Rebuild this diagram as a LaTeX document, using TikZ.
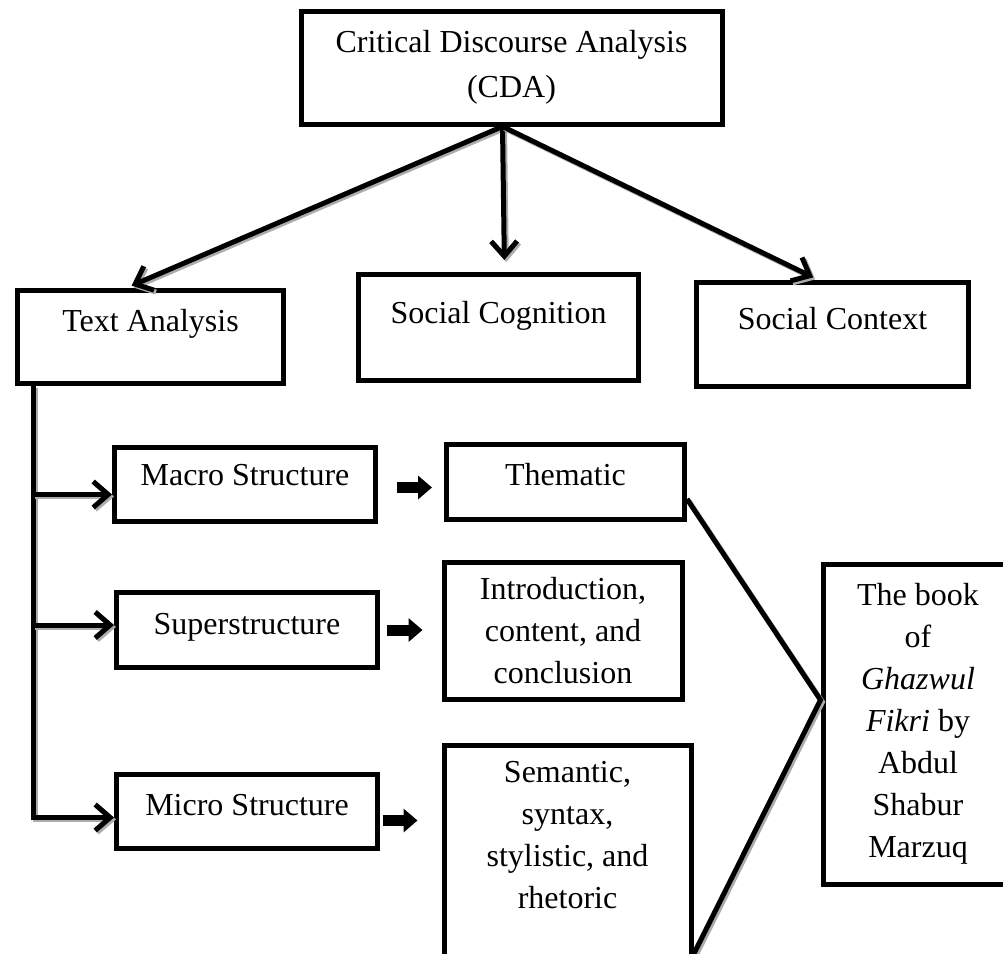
\documentclass[tikz,border=0pt]{standalone}
\usepackage{fontspec}
\setmainfont{Liberation Serif}
\usetikzlibrary{arrows.meta,calc}
\begin{document}
\begin{tikzpicture}[x=1pt,y=-1pt,
  every node/.style={font=\fontsize{32}{42}\selectfont},
  box/.style={draw, line width=5pt, inner sep=0pt, align=center},
  conn/.style={line width=5pt, preaction={draw=gray!65, line width=5pt, transform canvas={shift={(2pt,-2pt)}}}},
  barb/.style={-{Straight Barb[length=15pt,width=26pt]}},
  fat/.style={line width=11pt, -{Triangle[length=14pt,width=23pt]}}
]
\useasboundingbox (0,0) rectangle (1003,953);
\clip (0,0) rectangle (1003,953);
\fill[white] (0,0) rectangle (1003,953);

% top box
\node[box, minimum width=421pt, minimum height=113pt, font=\fontsize{32}{45}\selectfont] (cda) at (511.5,67.5)
  {Critical Discourse Analysis\\(CDA)};

% second row
\node[box, anchor=north west, minimum width=266pt, text height=41pt, text depth=52pt] (ta) at (15,288) {Text Analysis};
\node[box, anchor=north west, minimum width=280pt, text height=49pt, text depth=57pt] (sc) at (356,272) {Social Cognition};
\node[box, anchor=north west, minimum width=272pt, text height=47pt, text depth=57pt] (sx) at (694,280) {Social Context};

% structures
\node[box, anchor=north west, minimum width=261pt, text height=38pt, text depth=36pt] (mac) at (112,445) {Macro Structure};
\node[box, anchor=north west, minimum width=261pt, text height=42pt, text depth=33pt] (sup) at (114,590) {Superstructure};
\node[box, anchor=north west, minimum width=261pt, text height=41pt, text depth=33pt] (mic) at (114,772) {Micro Structure};

% elements
\node[box, anchor=north west, minimum width=238pt, text height=41pt, text depth=34pt] (the) at (444,442) {Thematic};
\node[box, minimum width=238pt, minimum height=137pt] (intro) at (563,630.5)
  {Introduction,\\content, and\\conclusion};
\node[box, minimum width=247pt, minimum height=235pt] (sem) at (567.5,862.5)
  {Semantic,\\syntax,\\stylistic, and\\rhetoric\rule[-55pt]{0pt}{0pt}};

% book
\node[box, minimum width=190pt, minimum height=320pt] (book) at (918,724)
  {The book\\of\\\textit{Ghazwul}\\\textit{Fikri} by\\Abdul\\Shabur\\Marzuq};

% connectors from CDA
\coordinate (apex) at ($(cda.south)+(-9,0)$);
\draw[conn,barb,shorten >=6pt] (apex) -- ($(ta.north west)!0.41!(ta.north east)$);
\draw[conn,barb,shorten >=12pt] (apex) -- ($(sc.north)+(6,0)$);
\draw[conn,barb,shorten >=6pt] (apex) -- ($(sx.north west)!0.45!(sx.north east)$);

% text analysis branches
\coordinate (tr0) at ($(ta.south west)+(18,0)$);
\coordinate (macin) at ($(mac.west)+(0,10)$);
\coordinate (supin) at ($(sup.west)+(0,-5)$);
\coordinate (micin) at ($(mic.west)+(0,6)$);
\draw[conn,barb] (tr0) |- (micin);
\draw[conn,barb] (tr0 |- macin) -- (macin);
\draw[conn,barb] (tr0 |- supin) -- (supin);

% fat arrows
\draw[fat, shorten <=19pt, shorten >=12pt] ([yshift=-3pt]mac.east) -- ([yshift=-3pt]mac.east -| the.west);
\draw[fat, shorten <=7pt, shorten >=19pt] (sup.east) -- (sup.east -| intro.west);
\draw[fat, shorten <=3pt, shorten >=24pt] ([yshift=-9pt]mic.east) -- ([yshift=-9pt]mic.east -| sem.west);

% converging lines to book
\coordinate (meet) at ($(book.west)+(0,-24)$);
\draw[conn] ($(the.east)+(0,17)$) -- (meet) -- ($(sem.north east)+(0,212)$);
\end{tikzpicture}
\end{document}
